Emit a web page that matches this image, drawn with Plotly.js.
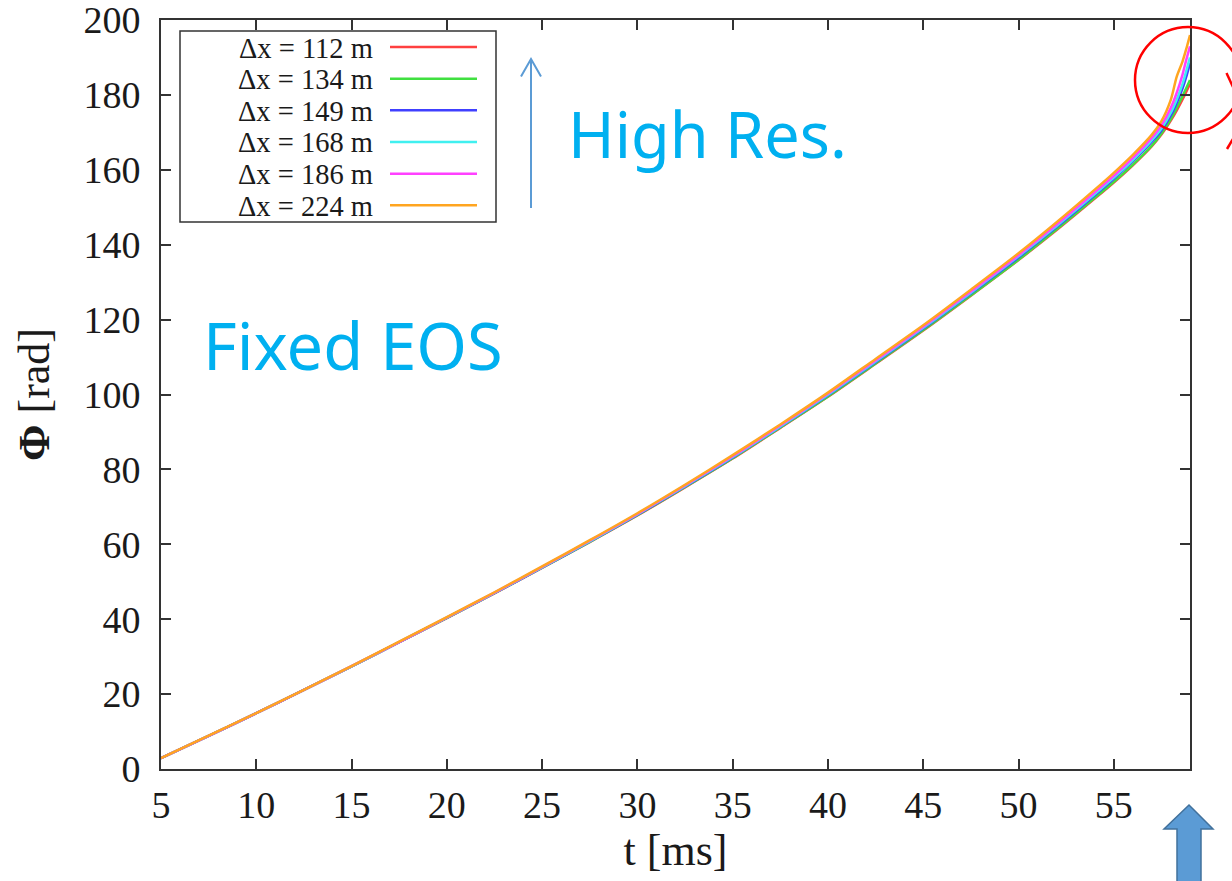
<!DOCTYPE html>
<html>
<head>
<meta charset="utf-8">
<script src="https://cdn.plot.ly/plotly-3.0.1.min.js"></script>
<style>html,body{margin:0;padding:0;background:#fff;}#chart{width:1232px;height:881px;}</style>
</head>
<body>
<div id="chart"></div>
<script>
// ---- data ----
const tMs = [5, 7.5, 10, 12.5, 15, 17.5, 20, 22.5, 25, 27.5, 30, 32.5, 35, 37.5, 40, 42.5, 45, 47.5, 50, 52, 54, 55, 56, 57, 57.5, 58, 58.3, 58.6, 58.8, 59];

const seriesNames = ["\u0394x = 112 m", "\u0394x = 134 m", "\u0394x = 149 m", "\u0394x = 168 m", "\u0394x = 186 m", "\u0394x = 224 m"];
const seriesColors = ["#ff4040", "#40e040", "#4040ff", "#40f0f0", "#ff40ff", "#ffa520"];

const phi112 = [2.9, 8.85, 14.9, 21.1, 27.4, 33.85, 40.3, 46.9, 53.7, 60.6, 67.7, 75.2, 82.9, 91.1, 99.4, 108.2, 117.1, 126.4, 135.9, 143.9, 152.3, 156.6, 161.2, 166.3, 169.4, 173.2, 175.8, 178.7, 180.8, 183.0];
const phi134 = [2.9, 8.85, 14.9, 21.1, 27.4, 33.85, 40.35, 46.95, 53.75, 60.65, 67.8, 75.3, 83.0, 91.2, 99.5, 108.3, 117.2, 126.5, 136.0, 144.1, 152.5, 156.8, 161.4, 166.5, 169.7, 173.6, 176.5, 179.6, 181.8, 184.0];
const phi149 = [2.9, 8.85, 14.9, 21.1, 27.4, 33.85, 40.4, 47.0, 53.8, 60.75, 67.9, 75.45, 83.2, 91.4, 99.8, 108.6, 117.6, 127.0, 136.6, 144.7, 153.2, 157.6, 162.3, 167.5, 170.5, 174.6, 177.8, 181.6, 184.8, 188.5];
const phi168 = [2.9, 8.85, 14.9, 21.1, 27.4, 33.85, 40.4, 47.0, 53.85, 60.8, 68.0, 75.55, 83.3, 91.5, 99.95, 108.8, 117.8, 127.2, 136.9, 145.0, 153.5, 157.9, 162.6, 167.9, 171.0, 175.3, 178.7, 182.8, 186.3, 190.0];
const phi186 = [2.9, 8.85, 14.9, 21.1, 27.45, 33.9, 40.45, 47.1, 53.95, 60.95, 68.1, 75.7, 83.5, 91.7, 100.2, 109.1, 118.1, 127.5, 137.2, 145.4, 154.0, 158.4, 163.2, 168.6, 171.9, 176.6, 180.5, 185.3, 189.3, 193.0];
const phi224 = [2.9, 8.9, 14.95, 21.15, 27.5, 34.0, 40.55, 47.2, 54.1, 61.1, 68.3, 75.9, 83.8, 92.0, 100.5, 109.5, 118.5, 128.0, 137.7, 146.0, 154.7, 159.2, 164.0, 169.4, 173.0, 178.8, 184.8, 188.8, 192.2, 196.0];

const phiSeries = [phi112, phi134, phi149, phi168, phi186, phi224];

const xTickVals = [5, 10, 15, 20, 25, 30, 35, 40, 45, 50, 55];
const yTickVals = [0, 20, 40, 60, 80, 100, 120, 140, 160, 180, 200];

// ---- traces ----
const traces = phiSeries.map((ys, i) => ({
  type: "scatter",
  mode: "lines",
  x: tMs,
  y: ys,
  name: seriesNames[i],
  line: {color: seriesColors[i], width: 2.5, shape: "spline", smoothing: 0.8},
  showlegend: false,
  hoverinfo: "x+y+name"
}));

// ---- pixel helpers for overlay placement (plot area 161..1190 x 20..769) ----
const L = 161, R = 1190, T = 20, B = 769;
const px = x => (x - L) / (R - L);
const py = y => (B - y) / (B - T);

const shapes = [];
const annotations = [];

// custom legend box (gnuplot style: text left, sample right)
shapes.push({type: "rect", xref: "paper", yref: "paper",
  x0: px(180), x1: px(496), y0: py(222), y1: py(31),
  line: {color: "#333", width: 1.5}, fillcolor: "rgba(255,255,255,1)", layer: "above"});
const rowY = [47, 78.7, 110.3, 142, 173.7, 205.3];
seriesNames.forEach((nm, i) => {
  shapes.push({type: "line", xref: "paper", yref: "paper",
    x0: px(390), x1: px(477), y0: py(rowY[i]), y1: py(rowY[i]),
    line: {color: seriesColors[i], width: 2.5}, layer: "above"});
  annotations.push({xref: "paper", yref: "paper", x: px(374), y: py(rowY[i] + 1),
    xanchor: "right", yanchor: "middle", showarrow: false, text: nm, borderpad: 0,
    font: {family: "Liberation Serif, Times New Roman, serif", size: 28.5, color: "#1a1a1a"}});
});

// thin blue arrow
shapes.push({type: "line", xref: "paper", yref: "paper",
  x0: px(531), x1: px(531), y0: py(208), y1: py(59),
  line: {color: "#5B9BD5", width: 2}});
shapes.push({type: "path", xref: "paper", yref: "paper",
  path: `M ${px(521)} ${py(76.5)} L ${px(531)} ${py(59)} L ${px(541)} ${py(76.5)}`,
  line: {color: "#5B9BD5", width: 2}});

// text labels
annotations.push({xref: "paper", yref: "paper", x: px(566), y: py(133), xanchor: "left", yanchor: "middle",
  showarrow: false, text: "High Res.", font: {family: "Noto Sans, sans-serif", size: 63, color: "#00B0F0"}});
annotations.push({xref: "paper", yref: "paper", x: px(201), y: py(345), xanchor: "left", yanchor: "middle",
  showarrow: false, text: "Fixed EOS", font: {family: "Noto Sans, sans-serif", size: 65, color: "#00B0F0"}});

// red circle highlight + marks at right edge
shapes.push({type: "circle", xref: "paper", yref: "paper",
  x0: px(1135), x1: px(1241), y0: py(133), y1: py(27),
  line: {color: "#FF0000", width: 2.5}, layer: "above"});
shapes.push({type: "line", xref: "paper", yref: "paper",
  x0: px(1226.5), y0: py(73), x1: px(1233), y1: py(87),
  line: {color: "#FF0000", width: 2.5}});
shapes.push({type: "line", xref: "paper", yref: "paper",
  x0: px(1227), y0: py(149), x1: px(1233), y1: py(139),
  line: {color: "#FF0000", width: 2.5}});

// block arrow at bottom right
shapes.push({type: "path", xref: "paper", yref: "paper",
  path: `M ${px(1189)} ${py(805)} L ${px(1213)} ${py(829)} L ${px(1201)} ${py(829)} L ${px(1201)} ${py(885)} L ${px(1177)} ${py(885)} L ${px(1177)} ${py(829)} L ${px(1164)} ${py(829)} Z`,
  fillcolor: "#5B9BD5", line: {color: "#41719C", width: 1.5}});

const tickFont = {family: "Liberation Serif, Times New Roman, serif", size: 38, color: "#1a1a1a"};
const titleFont = {family: "Liberation Serif, Times New Roman, serif", size: 44, color: "#1a1a1a"};

const layout = {
  width: 1232, height: 881,
  margin: {l: L, r: 1232 - R, t: T, b: 881 - B, pad: 0},
  paper_bgcolor: "#fff", plot_bgcolor: "#fff",
  showlegend: false,
  xaxis: {
    range: [5, 59], tickvals: xTickVals, ticks: "inside", ticklen: 10, tickwidth: 2, tickcolor: "#333",
    showline: true, linecolor: "#333", linewidth: 2, mirror: "ticks", showgrid: false, zeroline: false,
    tickfont: tickFont, ticklabelstandoff: 1, ticklabeloverflow: "allow",
    title: {text: "t [ms]", font: titleFont, standoff: 10}
  },
  yaxis: {
    range: [0, 200], tickvals: yTickVals, ticks: "inside", ticklen: 10, tickwidth: 2, tickcolor: "#333",
    showline: true, linecolor: "#333", linewidth: 2, mirror: "ticks", showgrid: false, zeroline: false,
    tickfont: tickFont, ticklabelstandoff: 11, ticklabeloverflow: "allow",
    title: {text: "<b>\u03A6</b> [rad]", font: titleFont, standoff: 20}
  },
  shapes: shapes,
  annotations: annotations
};

Plotly.newPlot("chart", traces, layout, {displayModeBar: false, staticPlot: true});
</script>
</body>
</html>
